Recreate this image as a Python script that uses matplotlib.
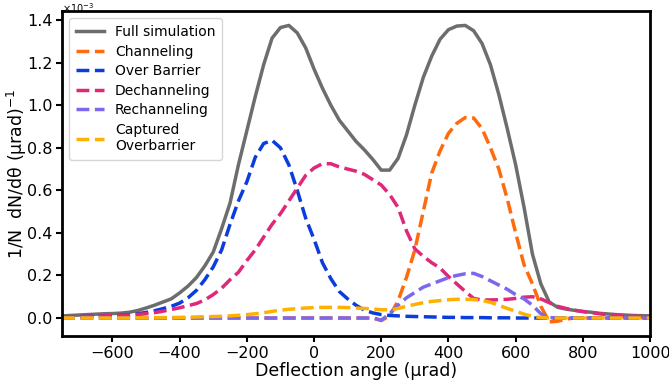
import numpy as np
import matplotlib
matplotlib.use("Agg")
import matplotlib.pyplot as plt

angle = list(range(-750, 1001, 25))

# values in units of 1e-3 per urad
full_sim = [0.010, 0.012, 0.014, 0.016, 0.018, 0.020, 0.021, 0.023, 0.027, 0.035,
            0.047, 0.060, 0.075, 0.090, 0.118, 0.150, 0.190, 0.245, 0.310, 0.420,
            0.540, 0.720, 0.880, 1.040, 1.190, 1.315, 1.365, 1.375, 1.340, 1.270,
            1.170, 1.080, 1.000, 0.930, 0.880, 0.830, 0.790, 0.745, 0.695, 0.695,
            0.750, 0.860, 1.000, 1.130, 1.230, 1.310, 1.355, 1.372, 1.375, 1.350,
            1.290, 1.190, 1.050, 0.890, 0.720, 0.520, 0.300, 0.160, 0.075, 0.050,
            0.042, 0.036, 0.031, 0.027, 0.022, 0.019, 0.016, 0.014, 0.012, 0.011,
            0.010]

channeling = [0.0] * 38 + [-0.012, 0.010, 0.080, 0.190, 0.320, 0.500, 0.680, 0.785,
              0.868, 0.915, 0.942, 0.940, 0.890, 0.800, 0.700, 0.560, 0.400, 0.250,
              0.160, 0.055, -0.018, -0.015, -0.005, 0.0, 0.0, 0.0, 0.0, 0.0, 0.0,
              0.0, 0.0, 0.0, 0.0]

over_barrier = [0.005, 0.006, 0.007, 0.008, 0.009, 0.010, 0.011, 0.013, 0.016, 0.020,
                0.026, 0.034, 0.044, 0.055, 0.070, 0.095, 0.130, 0.180, 0.240, 0.320,
                0.440, 0.550, 0.640, 0.755, 0.820, 0.835, 0.800, 0.720, 0.600, 0.470,
                0.370, 0.260, 0.185, 0.125, 0.090, 0.060, 0.037, 0.024, 0.016, 0.012,
                0.010, 0.008, 0.007, 0.006, 0.005, 0.004, 0.003, 0.003, 0.002, 0.002,
                0.002, 0.001, 0.001, 0.001, 0.0, 0.0, 0.0, 0.0, 0.0, 0.0,
                0.0, 0.0, 0.0, 0.0, 0.0, 0.0, 0.0, 0.0, 0.0, 0.0,
                0.0]

dechanneling = [0.005, 0.006, 0.007, 0.008, 0.009, 0.010, 0.011, 0.012, 0.014, 0.017,
                0.020, 0.025, 0.032, 0.040, 0.048, 0.058, 0.068, 0.085, 0.110, 0.140,
                0.180, 0.215, 0.270, 0.320, 0.380, 0.440, 0.490, 0.550, 0.610, 0.670,
                0.705, 0.725, 0.725, 0.710, 0.700, 0.690, 0.675, 0.650, 0.625, 0.580,
                0.520, 0.410, 0.325, 0.290, 0.260, 0.235, 0.195, 0.160, 0.125, 0.092,
                0.085, 0.085, 0.086, 0.088, 0.092, 0.098, 0.100, 0.090, 0.072, 0.055,
                0.045, 0.037, 0.030, 0.025, 0.020, 0.015, 0.012, 0.010, 0.008, 0.006,
                0.005]

rechanneling = [0.0] * 38 + [-0.010, 0.020, 0.060, 0.095, 0.120, 0.145, 0.160, 0.175,
                0.190, 0.200, 0.208, 0.210, 0.195, 0.175, 0.155, 0.135, 0.110, 0.090,
                0.060, 0.020, 0.002, 0.0, 0.0, 0.0, 0.0, 0.0, 0.0, 0.0, 0.0, 0.0,
                0.0, 0.0, 0.0]

captured_ob = [0.0, 0.0, 0.0, 0.0, 0.0, 0.0, 0.0, 0.0, 0.0, 0.001,
               0.001, 0.001, 0.002, 0.002, 0.003, 0.004, 0.005, 0.006, 0.007, 0.008,
               0.010, 0.013, 0.016, 0.020, 0.025, 0.031, 0.037, 0.041, 0.044, 0.047,
               0.049, 0.050, 0.050, 0.050, 0.049, 0.047, 0.045, 0.042, 0.039, 0.038,
               0.045, 0.055, 0.064, 0.072, 0.078, 0.082, 0.086, 0.088, 0.088, 0.087,
               0.082, 0.074, 0.060, 0.045, 0.032, 0.018, 0.008, 0.002, 0.0, 0.0,
               0.0, 0.0, 0.0, 0.0, 0.0, 0.0, 0.0, 0.0, 0.0, 0.0,
               0.0]

labels = ["Full simulation", "Channeling", "Over Barrier", "Dechanneling",
          "Rechanneling", "Captured\nOverbarrier"]
colors = ["#6b6e6d", "#ff6a0d", "#0a3ddc", "#e0287a", "#7b68ee", "#ffb000"]
yticks = [0.0, 0.2, 0.4, 0.6, 0.8, 1.0, 1.2, 1.4]

x = np.array(angle)
series = [full_sim, channeling, over_barrier, dechanneling, rechanneling, captured_ob]

fig = plt.figure(figsize=(6.69, 3.85), dpi=100)
ax = fig.add_axes([0.0927, 0.127, 0.879, 0.844])

for i, (s, lab, c) in enumerate(zip(series, labels, colors)):
    ls = "-" if i == 0 else "--"
    ax.plot(x, s, ls, color=c, lw=2.5, label=lab)

ax.set_xlim(-750, 1000)
ax.set_ylim(-0.085, 1.442)
ax.set_yticks(yticks)
ax.set_yticklabels([f"{v:.1f}" for v in yticks])
fig.text(0.092, 0.997, r"$\times10^{-3}$", va="top", ha="left", fontsize=7)

ax.set_xlabel("Deflection angle (μrad)", fontsize=12.5, labelpad=1)
ax.set_ylabel("1/N  dN/dθ (μrad)$^{-1}$", fontsize=12.5)
ax.yaxis.set_label_coords(-0.056, 0.5)
ax.tick_params(labelsize=11.5, width=1.5, length=4, pad=3)
for sp in ax.spines.values():
    sp.set_linewidth(2.0)

ax.legend(loc="upper left", fontsize=10, handlelength=2.0, borderpad=0.5,
          labelspacing=0.4)

fig.savefig("out.png", dpi=100)
